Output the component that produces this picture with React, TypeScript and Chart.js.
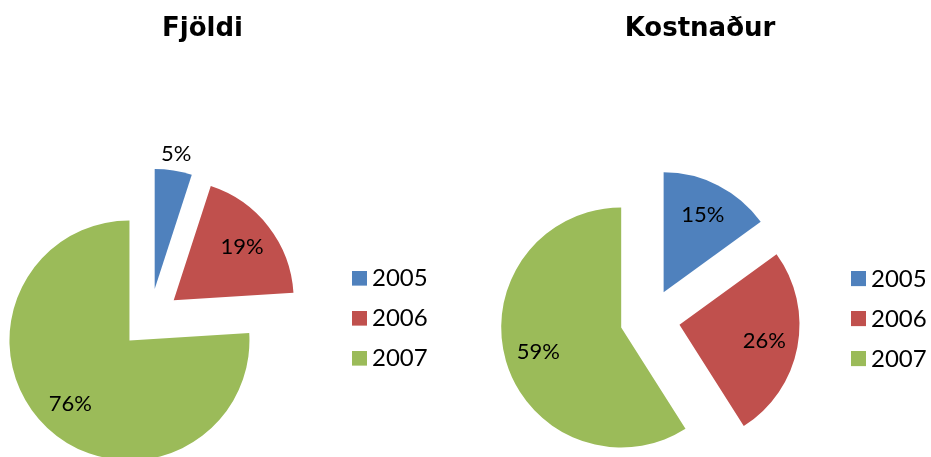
import React, { useEffect, useRef } from "react";
import { Chart, registerables } from "chart.js";

Chart.register(...registerables);

// ---- data ----
const years = ["2005", "2006", "2007"];
const fjoldiShares = [5, 19, 76];
const kostnadurShares = [15, 26, 59];
const chartTitles = ["Fjöldi", "Kostnaður"];
const sliceColors = ["#4F81BD", "#C0504D", "#9BBB59"];

const FONT = "Lato, 'Open Sans', sans-serif";
const TITLE_FONT = "'DejaVu Sans', Verdana, sans-serif";

function makeSwatch(color: string) {
  const c = document.createElement("canvas");
  c.width = 26;
  c.height = 16;
  const ctx = c.getContext("2d")!;
  ctx.fillStyle = color;
  ctx.fillRect(11, 0, 15, 15);
  return c;
}

// Draws every slice pushed out along its mid-angle (same radius for all slices),
// then the percentage labels.
const explodedPiePlugin = {
  id: "explodedPie",
  beforeDatasetsDraw(chart: any, _args: any, opts: any) {
    const ctx = chart.ctx;
    const meta = chart.getDatasetMeta(0);
    const data: number[] = chart.data.datasets[0].data;
    const total = data.reduce((a, b) => a + b, 0);
    const d = opts.explode || 0;
    meta.data.forEach((arc: any) => {
      const mid = (arc.startAngle + arc.endAngle) / 2;
      ctx.save();
      ctx.translate(Math.cos(mid) * d, Math.sin(mid) * d);
      arc.draw(ctx, chart.chartArea);
      ctx.restore();
    });
    ctx.save();
    ctx.font = `${opts.size}px ${FONT}`;
    ctx.fillStyle = "#000";
    ctx.textAlign = "center";
    ctx.textBaseline = "middle";
    meta.data.forEach((arc: any, i: number) => {
      const { x, y, startAngle, endAngle, outerRadius } = arc;
      const share = data[i] / total;
      const mid = (startAngle + endAngle) / 2;
      const r = d + outerRadius * (share < 0.1 ? opts.outside : opts.inside);
      ctx.fillText(Math.round(share * 100) + "%", x + Math.cos(mid) * r, y + Math.sin(mid) * r);
    });
    ctx.restore();
    return false;
  },
};

function PieChart(props: {
  title: string;
  values: number[];
  left: number;
  width: number;
  height: number;
  legendWidth: number;
}) {
  const ref = useRef<HTMLCanvasElement>(null);
  useEffect(() => {
    const swatches = sliceColors.map(makeSwatch);
    const chart = new Chart(ref.current!, {
      type: "pie",
      data: {
        labels: years,
        datasets: [
          {
            data: props.values,
            backgroundColor: sliceColors,
            borderWidth: 0,
            offset: 0,
            hoverOffset: 0,
          },
        ],
      },
      options: {
        animation: false,
        responsive: true,
        maintainAspectRatio: false,
        devicePixelRatio: 1,
        events: [],
        radius: 120,
        layout: { padding: 0 },
        plugins: {
          tooltip: { enabled: false },
          title: {
            display: true,
            text: props.title,
            color: "#000",
            font: { family: TITLE_FONT, size: 26, weight: "bold" },
            padding: { top: 14, bottom: 10 },
          },
          legend: {
            position: "right",
            fullSize: false,
            maxWidth: props.legendWidth,
            labels: {
              usePointStyle: true,
              pointStyleWidth: 12,
              padding: 16,
              color: "#000",
              font: { family: FONT, size: 24 },
              generateLabels: (ch: any) =>
                ch.data.labels.map((label: string, i: number) => ({
                  text: label,
                  fillStyle: sliceColors[i],
                  strokeStyle: sliceColors[i],
                  lineWidth: 0,
                  pointStyle: swatches[i],
                  fontColor: "#000",
                  textAlign: "left",
                  hidden: !ch.getDataVisibility(i),
                  index: i,
                })),
            },
          },
          explodedPie: { explode: 30, size: 22, inside: 0.72, outside: 1.14 },
        } as any,
      } as any,
      plugins: [explodedPiePlugin],
    });
    return () => chart.destroy();
  }, []);
  return (
    <div
      style={{
        position: "absolute",
        left: props.left,
        top: 0,
        width: props.width,
        height: props.height,
      }}
    >
      <canvas ref={ref} />
    </div>
  );
}

export default function App() {
  return (
    <div
      style={{
        position: "fixed",
        left: 0,
        top: 0,
        width: 931,
        height: 457,
        overflow: "hidden",
        background: "#fff",
      }}
    >
      <PieChart title={chartTitles[0]} values={fjoldiShares} left={-32} width={469} height={582} legendWidth={105} />
      <PieChart title={chartTitles[1]} values={kostnadurShares} left={469} width={462} height={583} legendWidth={100} />
    </div>
  );
}
